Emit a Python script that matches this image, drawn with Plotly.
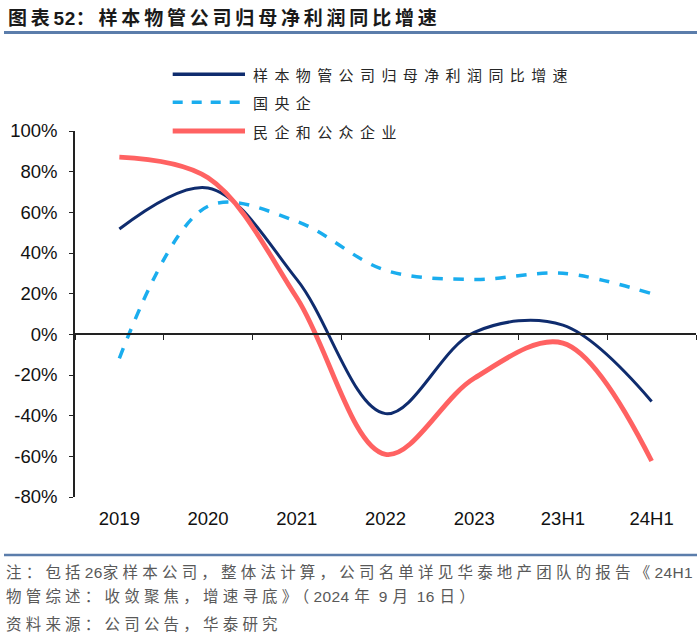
import re
import plotly.graph_objects as go

categories = ["2019", "2020", "2021", "2022", "2023", "23H1", "24H1"]
sample_total = [51.8, 72.0, 27.0, -39.0, 1.0, 4.5, -33.0]
soe = [-11.8, 63.0, 55.5, 31.5, 27.0, 30.0, 20.0]
private = [87.2, 77.0, 18.0, -59.0, -21.6, -4.3, -62.3]
series_names = ["样本物管公司归母净利润同比增速", "国央企", "民企和公众企业"]
ytick_vals = [-80, -60, -40, -20, 0, 20, 40, 60, 80, 100]
ytick_text = [f"{v}%" for v in ytick_vals]

title_text = "图表52：样本物管公司归母净利润同比增速"
note_lines = [
    "注：包括26家样本公司，整体法计算，公司名单详见华泰地产团队的报告《24H1",
    "物管综述：收敛聚焦，增速寻底》（2024 年 9 月 16 日）",
    "资料来源：公司公告，华泰研究",
]

NAVY = "#0f2c6e"
CYAN = "#1aadee"
RED = "#ff6262"
AXIS = "#222222"
RULE = "#5b7dab"
CJK = "Noto Sans CJK SC"
LAT = "Liberation Sans"

W, H = 700, 644
ML, MR, MT, MB = 75, 4, 131, 147
PW, PH = W - ML - MR, H - MT - MB


def xp(px):
    return (px - ML) / PW


def yp(py):
    return (H - MB - py) / PH


def spaced(text, cjk_ls, latin_ls=0.3):
    """Wrap runs of CJK and Latin characters in spans with their own letter spacing."""
    parts = re.findall(r"[\x00-\x7f]+|[^\x00-\x7f]+", text)
    out = []
    for p in parts:
        ls = latin_ls if p[0] < "\x80" else cjk_ls
        out.append(f'<span style="letter-spacing:{ls}px">{p}</span>')
    return "".join(out)


fig = go.Figure()
fig.add_trace(go.Scatter(x=categories, y=sample_total, mode="lines", name=series_names[0],
                         line=dict(color=NAVY, width=3, shape="spline", smoothing=1.0),
                         showlegend=False, hoverinfo="skip"))
fig.add_trace(go.Scatter(x=categories, y=soe, mode="lines", name=series_names[1],
                         line=dict(color=CYAN, width=3.5, dash="dash", shape="spline", smoothing=1.0),
                         showlegend=False, hoverinfo="skip"))
fig.add_trace(go.Scatter(x=categories, y=private, mode="lines", name=series_names[2],
                         line=dict(color=RED, width=4.8, shape="spline", smoothing=1.0),
                         showlegend=False, hoverinfo="skip"))
# helper trace to register categories on the zero-line axis
fig.add_trace(go.Scatter(x=categories, y=[0] * len(categories), xaxis="x2", yaxis="y",
                         mode="markers", marker=dict(opacity=0), showlegend=False,
                         hoverinfo="skip"))

fig.update_layout(
    width=W, height=H,
    margin=dict(l=ML, r=MR, t=MT, b=MB, pad=0),
    paper_bgcolor="white", plot_bgcolor="white",
    showlegend=False,
    font=dict(family=f"{LAT}, {CJK}", size=18.5, color="#111111"),
    xaxis=dict(type="category", categoryorder="array", categoryarray=categories,
               range=[-0.5, len(categories) - 0.5], showline=False, showgrid=False,
               zeroline=False, ticks="", ticklabelstandoff=8,
               tickfont=dict(family=LAT, size=18.5, color="#111111")),
    xaxis2=dict(type="category", categoryorder="array", categoryarray=categories,
                range=[-0.5, len(categories) - 0.5], overlaying="x", anchor="free",
                position=80 / 180, showline=True, linecolor=AXIS, linewidth=1.5,
                ticks="outside", tickson="boundaries", ticklen=5, tickwidth=1.3,
                tickcolor=AXIS, showticklabels=False, showgrid=False, zeroline=False),
    yaxis=dict(range=[-80, 100], tickvals=ytick_vals, ticktext=ytick_text,
               showline=True, linecolor=AXIS, linewidth=1.5, ticks="outside",
               ticklen=4, tickwidth=1.3, tickcolor=AXIS, showgrid=False, zeroline=False,
               ticklabelstandoff=8,
               tickfont=dict(family=LAT, size=18.5, color="#111111")),
)

shapes = []
annotations = []

# title + rule
annotations.append(dict(xref="paper", yref="paper", x=xp(6), y=yp(18), xanchor="left",
                        yanchor="middle", showarrow=False,
                        text="<b>" + spaced(title_text, 3.8, 0.5) + "</b>",
                        font=dict(family=f"{LAT}, {CJK}", size=19, color="#1a1a1a")))
shapes.append(dict(type="line", xref="paper", yref="paper", x0=xp(4), x1=xp(697),
                   y0=yp(32.5), y1=yp(32.5), line=dict(color=RULE, width=3)))

# legend (drawn)
leg_y = [74.3, 102.3, 131]
leg_style = [dict(color=NAVY, width=3.5), dict(color=CYAN, width=3.5, dash="10px,9px"),
             dict(color=RED, width=5)]
for name, ly, st in zip(series_names, leg_y, leg_style):
    shapes.append(dict(type="line", xref="paper", yref="paper", x0=xp(172.7), x1=xp(245),
                       y0=yp(ly), y1=yp(ly), line=st))
    annotations.append(dict(xref="paper", yref="paper", x=xp(251), y=yp(ly), xanchor="left",
                            yanchor="middle", showarrow=False,
                            text=spaced(name, 6.4),
                            font=dict(family=CJK, size=15, color="#262626")))

# footer rule + notes
shapes.append(dict(type="line", xref="paper", yref="paper", x0=xp(4), x1=xp(697),
                   y0=yp(555), y1=yp(555), line=dict(color=RULE, width=2.5)))
for line, ly in zip(note_lines, [572, 596, 624]):
    annotations.append(dict(xref="paper", yref="paper", x=xp(4), y=yp(ly), xanchor="left",
                            yanchor="middle", showarrow=False,
                            text=spaced(line, 4.2, 0.4),
                            font=dict(family=f"{LAT}, {CJK}", size=15.5, color="#595959")))

fig.update_layout(shapes=shapes, annotations=annotations)
fig.write_html("out.html", config={"displayModeBar": False},
               post_script="document.body.style.margin='0px';document.body.style.overflow='hidden';")
